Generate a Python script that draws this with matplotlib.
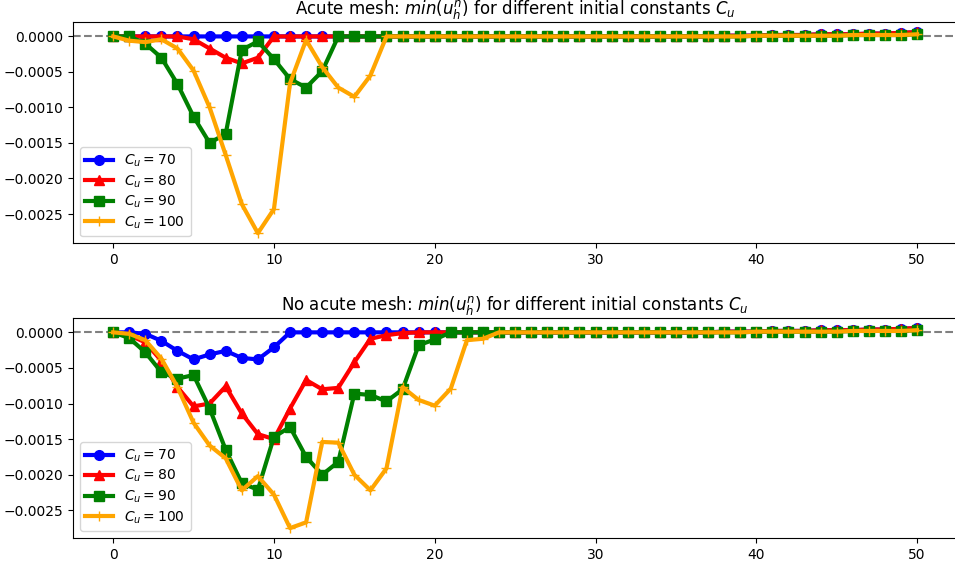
import numpy as np
import matplotlib.pyplot as plt

steps = np.arange(0, 51)
constants = [70, 80, 90, 100]

tail_blue = [0.0, 0.0, 0.0, 0.0, 0.00001, 0.00001, 0.00001, 0.00002, 0.00002, 0.00002,
             0.00003, 0.00003, 0.00003, 0.00004, 0.00004, 0.00005, 0.00006]
tail_other = [0.0, 0.0, 0.0, 0.0, 0.0, 0.0, 0.00001, 0.00001, 0.00001, 0.00001,
              0.00001, 0.00001, 0.00002, 0.00002, 0.00002, 0.00002, 0.00003]

# acute mesh
acute_70 = [0.0] * 34 + tail_blue
acute_80 = [0.0, 0.0, 0.0, 0.0, 0.0, -0.00004, -0.00017, -0.0003, -0.00038, -0.0003,
            0.0] + [0.0] * 23 + tail_blue
acute_90 = [0.0, 0.0, -0.0001, -0.0003, -0.00067, -0.00113, -0.0015, -0.00137, -0.00019, -0.00007,
            -0.00032, -0.0006, -0.00072, -0.00049, 0.0] + [0.0] * 19 + tail_other
acute_100 = [0.0, -0.00006, -0.00008, -0.00004, -0.00017, -0.00048, -0.001, -0.00167, -0.00236, -0.00277,
             -0.00243, -0.00066, -0.00005, -0.00043, -0.00072, -0.00085, -0.00055, 0.0] + [0.0] * 16 + tail_other

# no acute mesh
plain_70 = [0.0, 0.0, -0.00002, -0.00012, -0.00026, -0.00038, -0.00031, -0.00026, -0.00036, -0.00038,
            -0.00021, 0.0] + [0.0] * 22 + tail_blue
plain_80 = [0.0, -0.00004, -0.00014, -0.0004, -0.00077, -0.00104, -0.001, -0.00076, -0.00114, -0.00143,
            -0.0015, -0.00107, -0.00067, -0.0008, -0.00078, -0.00042, -0.00009, -0.00004, -0.00001,
            0.0] + [0.0] * 14 + tail_blue
plain_90 = [0.0, -0.00008, -0.00028, -0.00056, -0.00065, -0.0006, -0.00107, -0.00165, -0.00212, -0.00221,
            -0.00147, -0.00133, -0.00175, -0.002, -0.00182, -0.00086, -0.00088, -0.00097, -0.0008, -0.00018,
            -0.0001, 0.0] + [0.0] * 12 + tail_other
plain_100 = [0.0, -0.00002, -0.00011, -0.00037, -0.00077, -0.00127, -0.00159, -0.00177, -0.00222, -0.00202,
             -0.00228, -0.00275, -0.00267, -0.00154, -0.00155, -0.002, -0.00222, -0.00191, -0.00077, -0.00095,
             -0.00103, -0.00079, -0.00011, -0.00009, 0.0] + [0.0] * 9 + tail_other

colors = ['blue', 'red', 'green', 'orange']
markers = ['o', '^', 's', '+']

fig = plt.figure(figsize=(9.55, 5.67), dpi=100)
ax1 = fig.add_axes([0.0764, 0.571, 0.926, 0.390])
ax2 = fig.add_axes([0.0764, 0.051, 0.926, 0.388])

panels = [
    (ax1, [acute_70, acute_80, acute_90, acute_100], 'Acute mesh'),
    (ax2, [plain_70, plain_80, plain_90, plain_100], 'No acute mesh'),
]
for ax, series, name in panels:
    ax.axhline(0, color='gray', ls='--', lw=1.5)
    for vals, c, m, cu in zip(series, colors, markers, constants):
        ax.plot(steps, vals, color=c, marker=m, lw=3, ms=7, label=r'$C_u = %d$' % cu)
    ax.set_title(name + r': $min(u_h^n)$ for different initial constants $C_u$')
    ax.legend(loc='lower left', labelspacing=0.3)

fig.savefig('out.png', dpi=100)
